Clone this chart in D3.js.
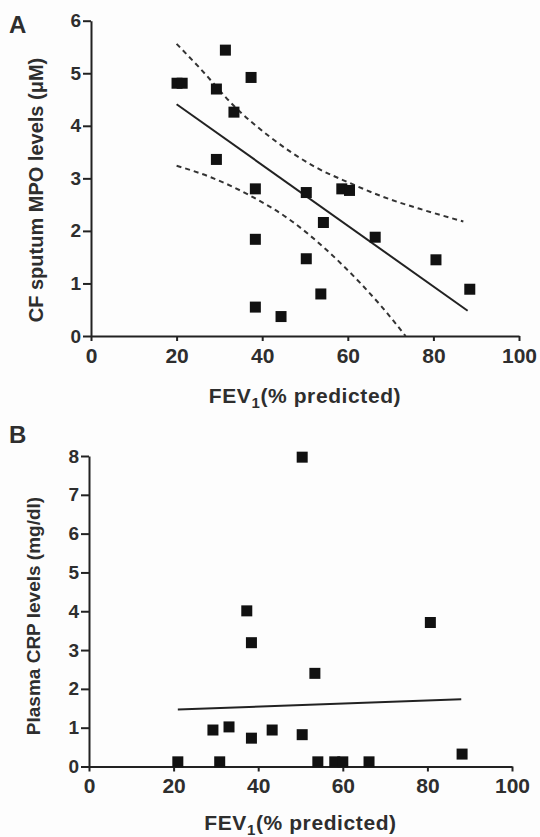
<!DOCTYPE html>
<html>
<head>
<meta charset="utf-8">
<script src="https://cdn.jsdelivr.net/npm/d3@7"></script>
<style>
  body { margin: 0; background: #fdfdfd; }
  text { font-family: "Liberation Sans", Arial, sans-serif; font-weight: bold; fill: #2e2e2e; }
</style>
</head>
<body>
<svg width="540" height="837"></svg>
<script>
// Panel A: sputum MPO vs FEV1
const fevA = [20.1, 21.3, 31.4, 37.4, 29.3, 33.4, 29.3, 38.4, 50.3, 58.6, 60.4, 38.4, 54.3, 66.4, 50.3, 80.6, 88.5, 53.7, 38.4, 44.4];
const mpo  = [4.81, 4.81, 5.44, 4.92, 4.70, 4.26, 3.36, 2.80, 2.73, 2.80, 2.77, 1.84, 2.16, 1.88, 1.47, 1.45, 0.89, 0.80, 0.55, 0.37];
const fitAx = [20, 88];
const fitAy = [4.41, 0.48];
const upperX = [20, 25.4, 34, 41.8, 52.3, 60.5, 68.2, 77.6, 87];
const upperY = [5.56, 5.10, 4.33, 3.79, 3.22, 2.91, 2.65, 2.40, 2.18];
const lowerX = [20, 28, 37, 47, 55, 63, 68, 73.5];
const lowerY = [3.24, 3.02, 2.68, 2.18, 1.64, 1.0, 0.55, 0];

// Panel B: plasma CRP vs FEV1
const fevB = [50.4, 37.3, 38.4, 80.7, 53.4, 29.3, 33.1, 38.4, 43.3, 50.4, 88.2, 21.0, 30.9, 54.1, 58.1, 60.0, 66.2];
const crp  = [7.97, 4.01, 3.19, 3.71, 2.40, 0.94, 1.02, 0.73, 0.94, 0.82, 0.32, 0.12, 0.12, 0.12, 0.12, 0.12, 0.12];
const fitBx = [21, 88];
const fitBy = [1.47, 1.73];

const xTicks = [0, 20, 40, 60, 80, 100];
const yTicksA = [0, 1, 2, 3, 4, 5, 6];
const yTicksB = [0, 1, 2, 3, 4, 5, 6, 7, 8];

const svg = d3.select("svg");
const ink = "#222";

function panel(cfg) {
  const g = svg.append("g");
  const x = d3.scaleLinear().domain([0, 100]).range(cfg.xr);
  const y = d3.scaleLinear().domain(cfg.yd).range(cfg.yr);

  // x axis
  const ax = g.append("g")
    .attr("transform", `translate(0,${cfg.yr[0]})`)
    .call(d3.axisBottom(x).tickValues(xTicks).tickSize(5).tickSizeOuter(0).tickPadding(7));
  ax.selectAll("text").style("font-size", "21px");

  // y axis
  const ay = g.append("g")
    .attr("transform", `translate(${cfg.xr[0]},0)`)
    .call(d3.axisLeft(y).tickValues(cfg.yt).tickFormat(d3.format("d"))
      .tickSize(8).tickSizeOuter(0).tickPadding(2));
  ay.selectAll("text").style("font-size", "19px");

  g.selectAll(".domain, .tick line").attr("stroke", ink).attr("stroke-width", 2);

  // fit line
  const line = d3.line().x(d => x(d[0])).y(d => y(d[1]));
  g.append("path")
    .attr("d", line(d3.zip(cfg.fx, cfg.fy)))
    .attr("fill", "none").attr("stroke", ink).attr("stroke-width", 2);

  // confidence bands
  (cfg.bands || []).forEach(b => {
    g.append("path")
      .attr("d", line.curve(d3.curveMonotoneX)(d3.zip(b[0], b[1])))
      .attr("fill", "none").attr("stroke", "#333").attr("stroke-width", 2)
      .attr("stroke-dasharray", "5,4");
  });

  // points
  const s = 11;
  g.selectAll("rect.pt")
    .data(d3.zip(cfg.px, cfg.py))
    .join("rect")
    .attr("class", "pt")
    .attr("x", d => x(d[0]) - s / 2)
    .attr("y", d => y(d[1]) - s / 2)
    .attr("width", s).attr("height", s)
    .attr("fill", "#111");

  // axis titles
  const xt = g.append("text")
    .attr("x", (cfg.xr[0] + cfg.xr[1]) / 2).attr("y", cfg.xty)
    .attr("text-anchor", "middle").style("font-size", "21px")
    .style("letter-spacing", "0.6px");
  xt.append("tspan").text("FEV");
  xt.append("tspan").text("1").style("font-size", "15px").attr("dy", 5);
  xt.append("tspan").text("(% predicted)").attr("dy", -5);

  g.append("text")
    .attr("transform", `translate(${cfg.ytx},${cfg.ytc}) rotate(-90)`)
    .attr("text-anchor", "middle").attr("dy", "0.35em")
    .style("font-size", cfg.ytsize)
    .text(cfg.ytitle);

  g.append("text")
    .attr("x", 9).attr("y", cfg.labY)
    .style("font-size", "24px")
    .text(cfg.label);
}

panel({
  xr: [91, 519], yr: [336, 20.7], yd: [0, 6], yt: yTicksA,
  px: fevA, py: mpo, fx: fitAx, fy: fitAy,
  bands: [[upperX, upperY], [lowerX, lowerY]],
  xty: 403, ytx: 36, ytc: 190, ytsize: "20px", ytitle: "CF sputum MPO levels (\u03bcM)",
  label: "A", labY: 33
});

panel({
  xr: [89, 512], yr: [766.5, 456], yd: [0, 8], yt: yTicksB,
  px: fevB, py: crp, fx: fitBx, fy: fitBy,
  xty: 830, ytx: 33, ytc: 616, ytsize: "19px", ytitle: "Plasma CRP levels (mg/dl)",
  label: "B", labY: 443
});
</script>
</body>
</html>
